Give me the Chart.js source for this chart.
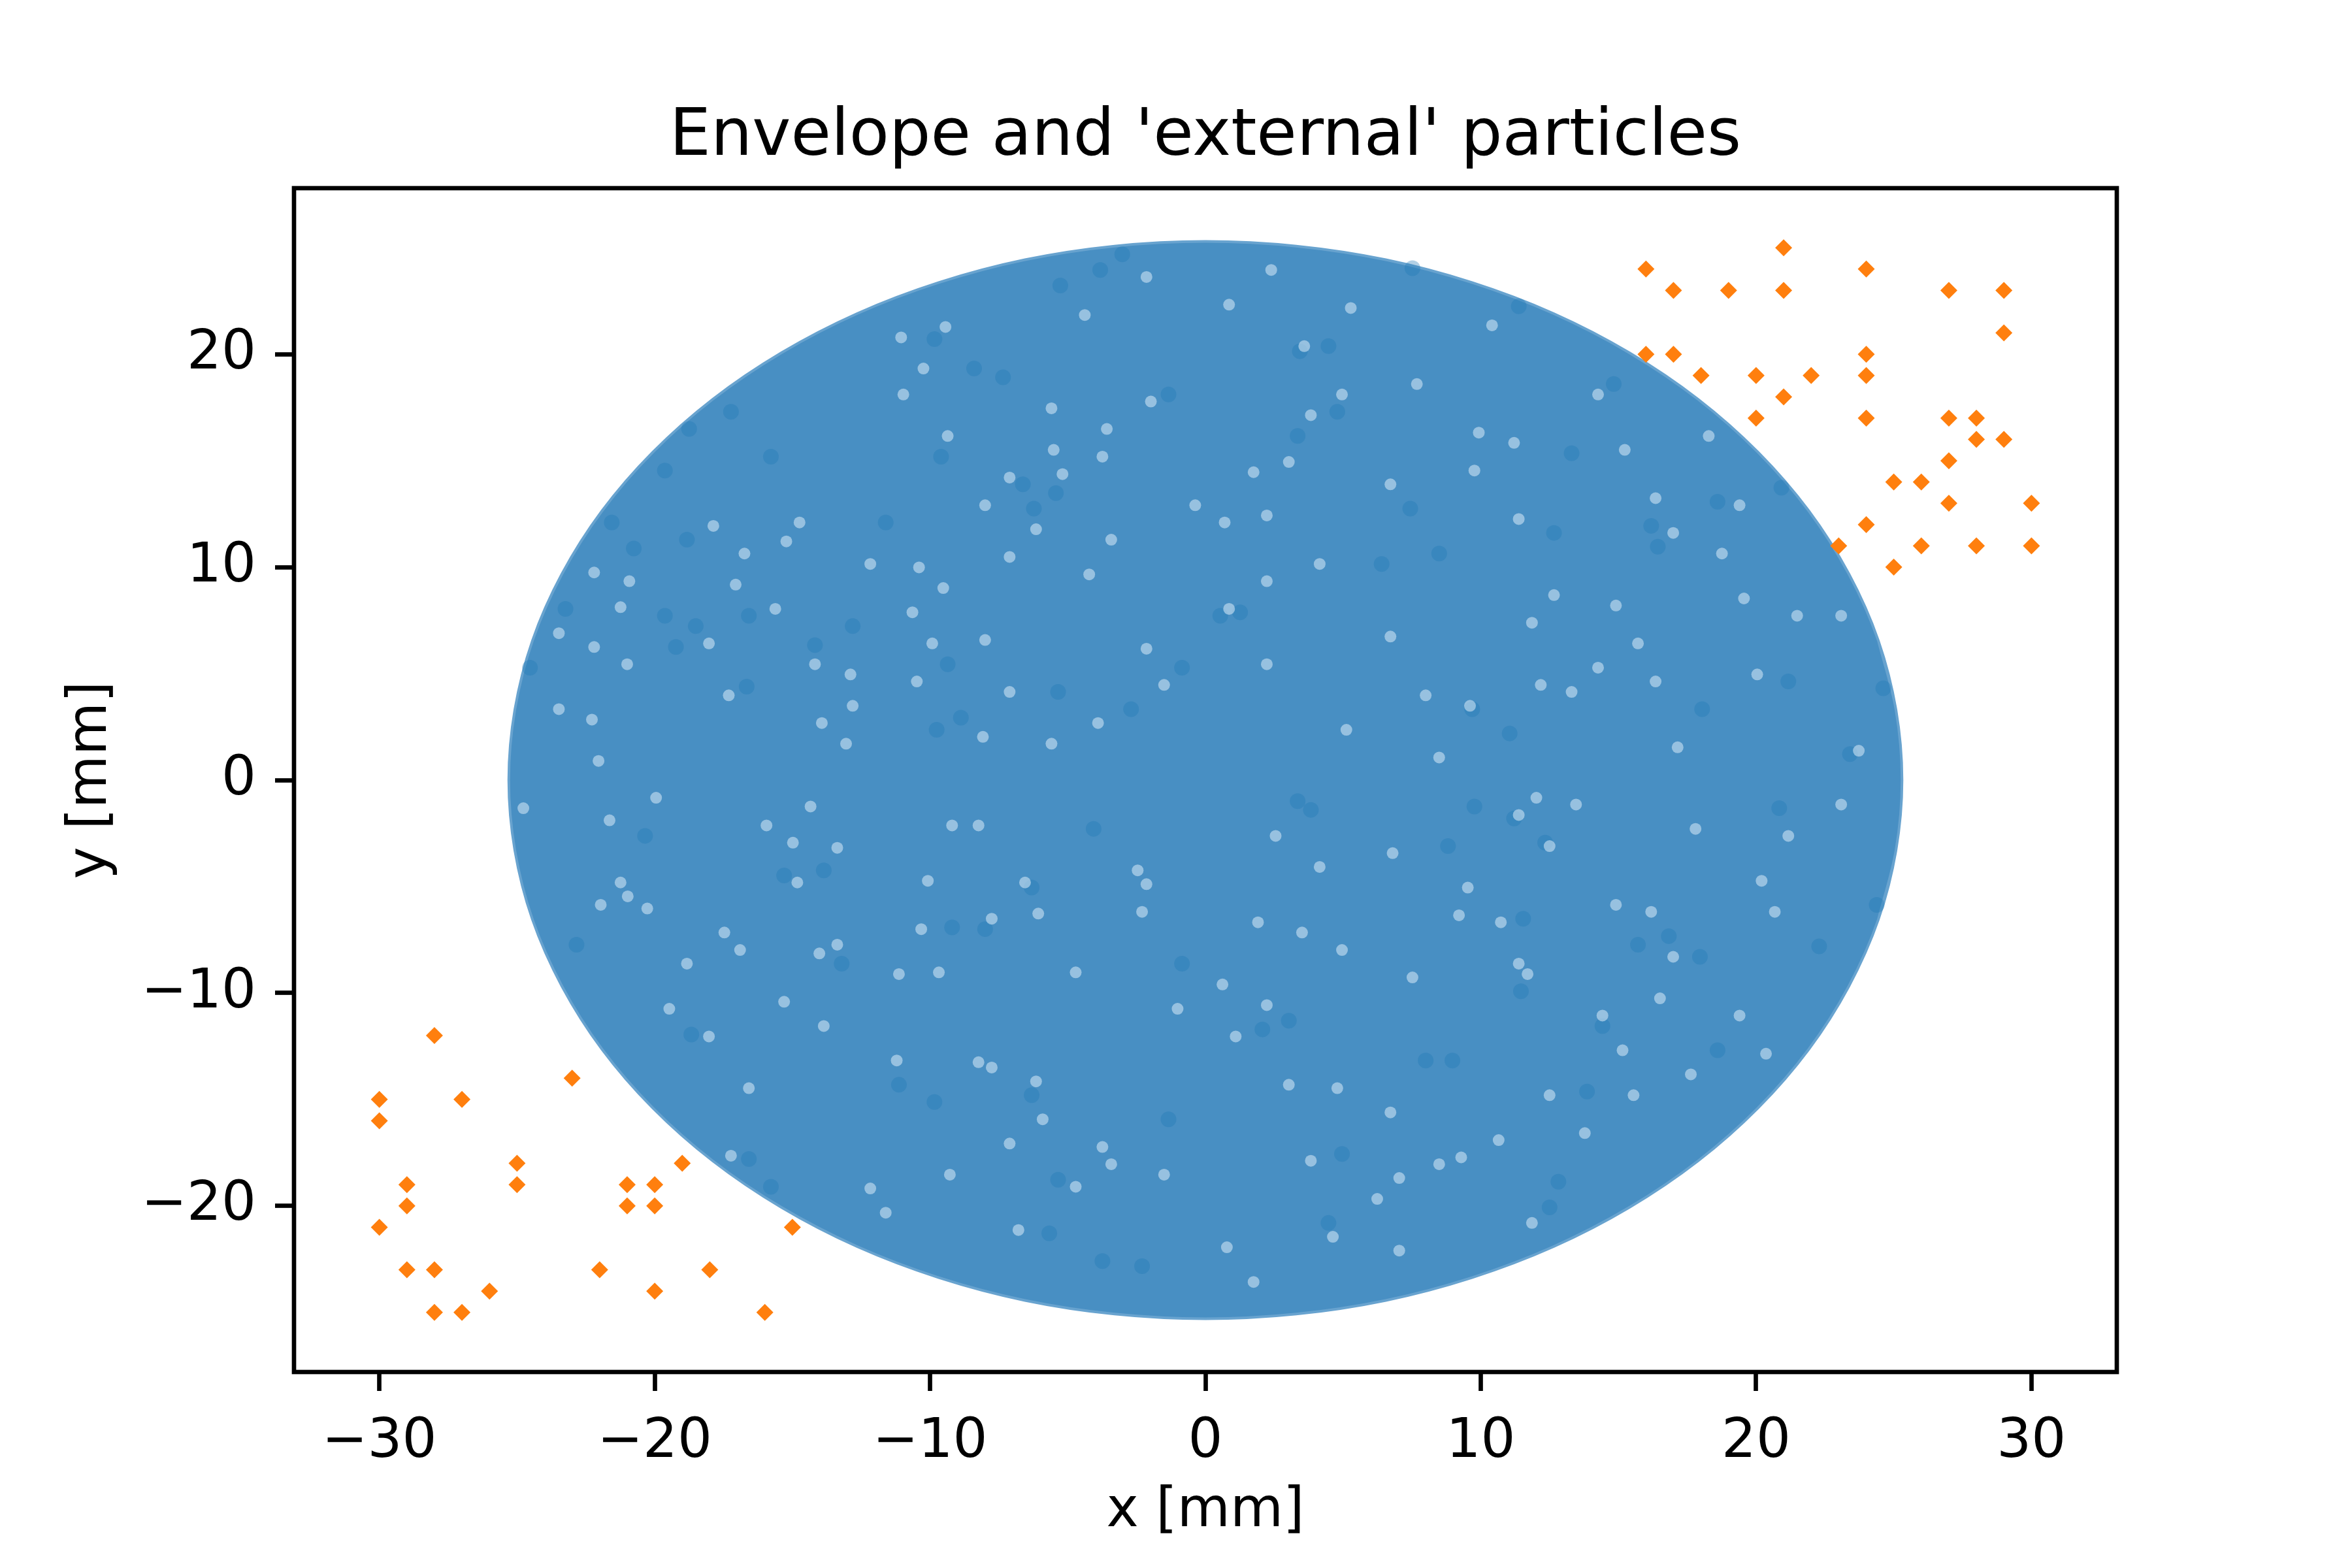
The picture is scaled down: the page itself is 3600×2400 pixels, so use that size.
<!DOCTYPE html>
<html>
<head>
<meta charset="utf-8">
<title>Envelope and 'external' particles</title>
<script src="https://cdn.jsdelivr.net/npm/chart.js@4"></script>
<style>
    html, body { margin: 0; padding: 0; background: #fff; }
    canvas { display: block; }
</style>
</head>
<body>
<canvas id="chart" width="3600" height="2400"></canvas>
<script>
const xTicks = [-30, -20, -10, 0, 10, 20, 30];
const yTicks = [-20, -10, 0, 10, 20];

// outer edge of the blue particle cloud.
// the path runs past its start a little so the smoothing leaves no kink at the join
const envelopeX = [24.44, 25.08, 25.3, 25.08, 24.44, 23.37, 21.91, 20.07, 17.89, 15.4, 12.65, 9.68, 6.55, 3.3, 0.0,
    -3.3, -6.55, -9.68, -12.65, -15.4, -17.89, -20.07, -21.91, -23.37, -24.44, -25.08, -25.3,
    -25.08, -24.44, -23.37, -21.91, -20.07, -17.89, -15.4, -12.65, -9.68, -6.55, -3.3, 0.0,
    3.3, 6.55, 9.68, 12.65, 15.4, 17.89, 20.07, 21.91, 23.37, 24.44, 25.08, 25.3, 25.08, 24.44];
const envelopeY = [-6.55, -3.3, 0.0, 3.3, 6.55, 9.68, 12.65, 15.4, 17.89, 20.07, 21.91, 23.37, 24.44, 25.08, 25.3,
    25.08, 24.44, 23.37, 21.91, 20.07, 17.89, 15.4, 12.65, 9.68, 6.55, 3.3, 0.0,
    -3.3, -6.55, -9.68, -12.65, -15.4, -17.89, -20.07, -21.91, -23.37, -24.44, -25.08, -25.3,
    -25.08, -24.44, -23.37, -21.91, -20.07, -17.89, -15.4, -12.65, -9.68, -6.55, -3.3, 0.0, 3.3, 6.55];

// the thin places in the cloud that show as pale spots
const paleSpots = [
    [-9.44,21.28],[-11.05,20.79],[-10.24,19.33],[-10.97,18.11],[-8.0,12.91],[-6.15,11.78],[-3.42,11.29],[-5.19,14.37],
    [-7.11,14.21],[-3.58,16.49],[-5.59,17.46],[-5.51,15.51],[-9.36,16.16],[-17.87,11.94],[-15.22,11.21],[-16.74,10.64],
    [-20.92,9.34],[-22.2,9.75],[-17.06,9.18],[-21.24,8.12],[-10.64,7.88],[-10.4,9.99],[-9.52,9.02],[-12.17,10.15],
    [-7.11,10.48],[-4.22,9.66],[-2.14,6.17],[-8.0,6.58],[-9.92,6.42],[-12.89,4.96],[-14.18,5.44],[-13.93,2.68],
    [-12.81,3.49],[-17.31,3.98],[-22.2,6.25],[-21.0,5.44],[-22.28,2.84],[-23.48,3.33],[-3.9,2.68],[-5.59,1.71],
    [-1.5,4.47],[-7.11,4.14],[-10.48,4.63],[-4.38,21.84],[-2.14,23.63],[-1.98,17.78],[-3.74,15.19],[-0.37,12.91],
    [-14.74,12.1],[-18.03,6.42],[-23.48,6.9],[-15.62,8.04],[-22.04,0.9],[-13.05,1.71],[-8.08,2.03],
    [3.03,14.94],[1.75,14.46],[2.23,12.43],[0.7,12.1],[3.59,20.38],[7.68,18.6],[4.96,18.11],[2.39,23.96],
    [0.86,22.33],[9.93,16.32],[9.77,14.54],[11.38,12.26],[16.35,13.24],[19.56,8.53],[21.49,7.72],[18.76,10.64],
    [14.91,8.2],[12.66,8.69],[15.71,6.42],[6.72,6.74],[4.15,10.15],[0.86,8.04],[2.23,9.34],[11.86,7.39],
    [16.99,11.61],[15.23,15.51],[11.21,15.84],[6.72,13.89],[13.3,4.14],[9.61,3.49],[12.18,4.47],[8.0,3.98],
    [2.23,5.44],[5.12,2.36],[16.35,4.63],[20.04,4.96],[23.09,7.72],[14.26,5.28],[3.83,17.14],[18.28,16.16],
    [19.4,12.91],[10.41,21.36],[5.28,22.17],[14.26,18.11],[8.49,1.06],[17.15,1.54],[23.73,1.38],
    [-17.47,-7.16],[-16.9,-7.98],[-14.02,-8.14],[-13.37,-7.73],[-19.95,-0.83],[-21.64,-1.89],[-14.34,-1.24],[-13.37,-3.18],
    [-14.98,-2.94],[-20.98,-5.46],[-21.96,-5.86],[-20.27,-6.03],[-14.82,-4.81],[-10.08,-4.73],[-6.07,-6.27],[-2.46,-4.24],
    [-2.14,-4.89],[-6.55,-4.81],[-11.13,-9.11],[-4.71,-9.03],[-9.68,-9.03],[-13.86,-11.55],[-11.21,-13.17],[-6.15,-14.15],
    [-18.03,-12.04],[-16.58,-14.47],[-7.76,-13.5],[-8.24,-13.25],[-5.91,-15.93],[-3.74,-17.23],[-17.23,-17.64],[-12.17,-19.18],
    [-11.61,-20.32],[-9.28,-18.53],[-4.71,-19.1],[-1.5,-18.53],[-3.42,-18.04],[-7.11,-17.07],[-9.2,-2.13],[-15.94,-2.13],
    [-8.24,-2.13],[-24.77,-1.32],[-21.24,-4.81],[-19.47,-10.74],[-15.3,-10.41],[-18.83,-8.62],[-10.32,-7.0],[-7.76,-6.51],
    [-2.3,-6.19],[-1.01,-10.74],[-6.79,-21.13],
    [2.55,-2.62],[6.8,-3.43],[12.5,-3.1],[4.15,-4.08],[9.53,-5.05],[14.91,-5.86],[16.19,-6.19],[20.68,-6.19],
    [10.73,-6.68],[9.21,-6.35],[11.7,-9.11],[14.42,-11.06],[20.2,-4.73],[23.09,-1.15],[2.23,-10.57],[1.1,-12.04],
    [6.72,-15.61],[10.65,-16.91],[9.29,-17.72],[3.83,-17.88],[7.04,-18.69],[12.5,-14.8],[15.15,-12.69],[15.55,-14.8],
    [17.63,-13.82],[19.4,-11.06],[16.51,-10.25],[21.17,-2.62],[13.46,-1.15],[11.38,-1.64],[12.02,-0.83],[4.79,-14.47],
    [3.03,-14.31],[0.62,-9.6],[4.63,-21.45],[6.24,-19.67],[8.49,-18.04],[11.86,-20.8],[7.04,-22.1],[1.75,-23.57],
    [0.78,-21.94],[16.99,-8.3],[20.36,-12.85],[1.91,-6.68],[3.51,-7.16],[17.8,-2.29],[7.52,-9.27],[11.38,-8.62],
    [4.96,-7.98],[13.78,-16.58]
];

// the tightest clumps of particles, which show darker
const denseSpots = [
    [-6.23,12.75],[-8.88,2.93],[-14.18,6.34],[-19.63,14.54],[-21.56,12.1],[-9.76,2.36],[-7.35,18.92],[-5.43,13.48],
    [-11.61,12.1],[-15.78,15.19],[-17.23,17.3],[-18.75,16.49],[-3.82,23.96],[-3.02,24.69],[-5.27,23.23],[-1.34,18.11],
    [-8.4,19.33],[-9.84,20.71],[-6.63,13.89],[-9.6,15.19],[-16.66,4.39],[-23.24,8.04],[-24.53,5.28],[-19.23,6.25],
    [-18.83,11.29],[-20.76,10.88],[-19.63,7.72],[-18.51,7.23],[-16.58,7.72],[-2.7,3.33],[-0.85,5.28],[-9.36,5.44],
    [-5.35,4.14],[-12.81,7.23],
    [4.47,20.38],[3.43,20.14],[7.52,24.04],[11.38,22.25],[14.83,18.6],[16.43,10.96],[12.66,11.61],[9.69,3.33],
    [11.05,2.19],[21.17,4.63],[24.62,4.31],[18.04,3.33],[13.3,15.35],[7.44,12.75],[3.35,16.16],[4.79,17.3],
    [1.26,7.88],[0.54,7.72],[16.19,11.94],[8.49,10.64],[6.4,10.15],[18.6,13.07],[20.92,13.73],[23.41,1.22],
    [-8.0,-7.0],[-9.2,-6.92],[-6.31,-14.8],[-5.67,-21.29],[-3.74,-22.59],[-2.3,-22.83],[-18.67,-11.95],[-13.21,-8.62],
    [-13.86,-4.24],[-15.3,-4.48],[-20.35,-2.62],[-4.06,-2.29],[-6.31,-5.05],[-22.84,-7.73],[-9.84,-15.12],[-5.35,-18.77],
    [-16.58,-17.8],[-15.78,-19.1],[-1.34,-15.93],[-0.85,-8.62],[-11.13,-14.31],
    [11.46,-9.92],[11.54,-6.51],[3.03,-11.3],[2.07,-11.71],[8.0,-13.17],[8.97,-13.17],[13.86,-14.63],[14.42,-11.55],
    [4.96,-17.56],[18.6,-12.69],[22.29,-7.81],[15.71,-7.73],[24.38,-5.86],[17.96,-8.3],[4.47,-20.8],[12.82,-18.86],
    [12.5,-20.07],[20.84,-1.32],[3.35,-0.99],[3.83,-1.4],[9.77,-1.24],[11.21,-1.8],[8.81,-3.1],[12.34,-2.94],[16.83,-7.33]
];

// orange 'external' particles, all on the integer grid
const externalX = [21, 16, 24, 17, 19, 21, 27, 29, 29, 16, 17, 24, 18, 20, 22, 24, 21, 20, 24, 27, 28, 28, 29, 27, 25, 26, 27, 30, 24, 23, 26, 28, 30, 25,
    -28, -23, -30, -27, -30, -25, -19, -29, -25, -21, -20, -29, -21, -20, -30, -15, -29, -28, -22, -18, -26, -20, -28, -27, -16];
const externalY = [25, 24, 24, 23, 23, 23, 23, 23, 21, 20, 20, 20, 19, 19, 19, 19, 18, 17, 17, 17, 17, 16, 16, 15, 14, 14, 13, 13, 12, 11, 11, 11, 11, 10,
    -12, -14, -15, -15, -16, -18, -18, -19, -19, -19, -19, -20, -20, -20, -21, -21, -23, -23, -23, -23, -24, -24, -25, -25, -25];

const FONT = '"DejaVu Sans"';
const LW = 6.67;

function minusLabel(v) {
    return String(v).replace('-', '\u2212');
}

// matplotlib draws a box on all four sides
const boxPlugin = {
    id: 'box',
    afterDatasetsDraw(chart) {
        const a = chart.chartArea;
        const ctx = chart.ctx;
        ctx.save();
        ctx.strokeStyle = '#000';
        ctx.lineWidth = LW;
        ctx.strokeRect(a.left, a.top, a.right - a.left, a.bottom - a.top);
        ctx.restore();
    }
};

new Chart(document.getElementById('chart'), {
    type: 'scatter',
    plugins: [boxPlugin],
    data: {
        datasets: [
            {
                label: 'external',
                data: externalX.map((x, i) => ({ x: x, y: externalY[i] })),
                pointStyle: 'rectRot',
                pointRadius: 13,
                backgroundColor: '#ff7f0e',
                borderWidth: 0,
                order: 1
            },
            {
                label: 'thin spots',
                data: paleSpots.map(p => ({ x: p[0], y: p[1] })),
                pointRadius: 9,
                backgroundColor: 'rgba(205,227,243,0.6)',
                borderWidth: 0,
                order: 2
            },
            {
                label: 'dense spots',
                data: denseSpots.map(p => ({ x: p[0], y: p[1] })),
                pointRadius: 12,
                backgroundColor: 'rgba(31,119,180,0.35)',
                borderWidth: 0,
                order: 3
            },
            {
                label: 'envelope',
                data: envelopeX.map((x, i) => ({ x: x, y: envelopeY[i] })),
                showLine: true,
                fill: 'shape',
                tension: 0.33,
                pointRadius: 0,
                borderWidth: 4,
                borderColor: 'rgb(104,163,207)',
                backgroundColor: 'rgb(72,143,195)',
                order: 4
            }
        ]
    },
    options: {
        responsive: false,
        animation: false,
        layout: { padding: { left: 0, right: 360, top: 0, bottom: 0 } },
        plugins: {
            legend: { display: false },
            tooltip: { enabled: false },
            title: {
                display: true,
                fullSize: false,
                text: "Envelope and 'external' particles",
                color: '#000',
                font: { family: FONT, size: 100, weight: 'normal' },
                padding: { top: 151, bottom: 17 }
            }
        },
        scales: {
            x: {
                type: 'linear',
                min: -33.1,
                max: 33.1,
                afterFit(s) { s.height = 300; },
                afterBuildTicks(s) { s.ticks = xTicks.map(v => ({ value: v })); },
                grid: { drawOnChartArea: false, tickLength: 29, tickWidth: LW, tickColor: '#000' },
                border: { display: false },
                ticks: {
                    color: '#000',
                    padding: 29,
                    maxRotation: 0,
                    autoSkip: false,
                    font: { family: FONT, size: 83.3 },
                    callback: minusLabel
                },
                title: {
                    display: true,
                    text: 'x [mm]',
                    color: '#000',
                    font: { family: FONT, size: 83.3 },
                    padding: { top: 0, bottom: 36 }
                }
            },
            y: {
                type: 'linear',
                min: -27.8,
                max: 27.8,
                afterFit(s) { s.width = 450; },
                afterBuildTicks(s) { s.ticks = yTicks.map(v => ({ value: v })); },
                grid: { drawOnChartArea: false, tickLength: 29, tickWidth: LW, tickColor: '#000' },
                border: { display: false },
                ticks: {
                    color: '#000',
                    padding: 29,
                    autoSkip: false,
                    font: { family: FONT, size: 83.3 },
                    callback: minusLabel
                },
                title: {
                    display: true,
                    text: 'y [mm]',
                    color: '#000',
                    font: { family: FONT, size: 83.3 },
                    padding: { top: 90, bottom: 0 }
                }
            }
        }
    }
});
</script>
</body>
</html>
